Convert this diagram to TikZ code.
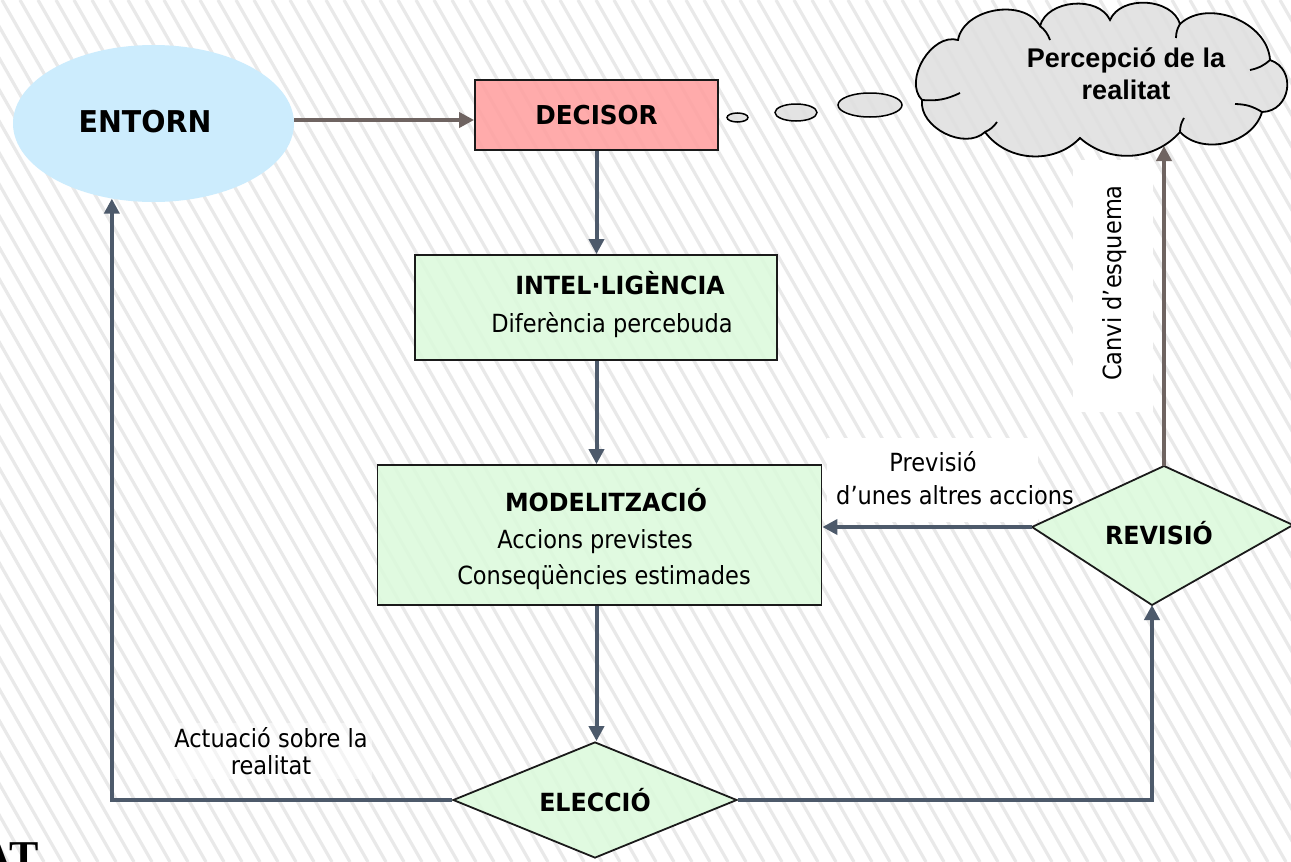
\documentclass[tikz,border=0pt]{standalone}
\usepackage{fontspec}
\usetikzlibrary{shapes.geometric,arrows.meta}
\newfontfamily\tah{DejaVu Sans}[FakeStretch=0.9]
\newfontfamily\tahb{DejaVu Sans}[FakeStretch=0.95]
\newfontfamily\arialf{Liberation Sans}
\newfontfamily\timesf{Liberation Serif}
\definecolor{entornc}{HTML}{CCECFD}
\definecolor{decisorc}{HTML}{FFA0A0}
\definecolor{greenc}{HTML}{DCFADC}
\definecolor{cloudc}{HTML}{E0E0E0}
\definecolor{slate}{HTML}{4D5A6B}
\definecolor{taupe}{HTML}{6F6461}
\definecolor{stripec}{HTML}{E9E9E9}
\definecolor{edgec}{HTML}{1A1A1A}
\begin{document}
\begin{tikzpicture}[x=1pt,y=-1pt,
  stripe/.style={line width=3.2pt, draw=stripec},
  box/.style={draw=edgec, line width=1.8pt, fill opacity=0.88, text opacity=1, inner sep=0pt},
  rtxt/.style={font=\tah\fontsize{25}{30}\selectfont, inner sep=0pt},
  btxt/.style={font=\tahb\bfseries\fontsize{25}{30}\selectfont, inner sep=0pt},
  conn/.style={line width=4pt, draw=slate, -{Triangle[length=15pt,width=15pt]}},
  connb/.style={line width=4pt, draw=taupe, -{Triangle[length=15pt,width=15pt]}},
  bubble/.style={ellipse, draw=black, line width=1.5pt, fill=cloudc, fill opacity=0.9, inner sep=0pt},
  curl/.style={draw=black, line width=1.8pt},
  labelbg/.style={fill=white, inner sep=0pt}
]
\useasboundingbox (0,0) rectangle (1291,862);
\clip (0,0) rectangle (1291,862);
\fill[white] (0,0) rectangle (1291,862);
\foreach \i in {-520,-502,...,1300} \draw[stripe] (\i,0) -- ++(492,862);

% ENTORN
\node[ellipse, fill=entornc, minimum width=281, minimum height=157, inner sep=0pt] (entorn) at (153.5,123.5) {};
\node[font=\tahb\bfseries\fontsize{30}{36}\selectfont, inner sep=0pt] (entornt) at (145,122) {ENTORN};

% DECISOR
\node[box, fill=decisorc, minimum width=243, minimum height=70, font=\tahb\bfseries\fontsize{26}{30}\selectfont] (decisor) at (596.5,115) {DECISOR};

% thought bubbles and cloud
\node[bubble, minimum width=21, minimum height=9] (b1) at (737.5,117.5) {};
\node[bubble, minimum width=42, minimum height=17] (b2) at (796,112.5) {};
\node[bubble, minimum width=64, minimum height=24] (b3) at (870,105) {};
\coordinate (J1) at (922,100);
\coordinate (J2) at (958,40);
\coordinate (J3) at (1040,26);
\coordinate (J4) at (1110,20);
\coordinate (J5) at (1180,24);
\coordinate (J6) at (1270,60);
\coordinate (J7) at (1262,112);
\coordinate (J8) at (1180,132);
\coordinate (J9) at (1080,138);
\coordinate (J10) at (985,132);
\path[draw=black, line width=1.8pt, fill=cloudc, fill opacity=0.9]
  (J1) to[bend left=75] (J2) to[bend left=70] (J3) to[bend left=70] (J4)
  to[bend left=70] (J5) to[bend left=65] (J6) to[bend left=80, looseness=1.4] (J7)
  to[bend left=60] (J8) to[bend left=45] (J9) to[bend left=50] (J10)
  to[bend left=70] (J1) -- cycle;
\draw[curl] (J1) to[bend right=15] ++(38,-7);
\draw[curl] (J3) to[bend left=15] ++(10,14);
\draw[curl] (J5) to[bend right=15] ++(-4,14);
\draw[curl] (J6) to[bend left=15] ++(-20,10);
\draw[curl] (J7) to[bend right=15] ++(-27,-8);
\draw[curl] (J8) to[bend left=15] ++(4,-14);
\draw[curl] (J10) to[bend right=15] ++(12,-10);
\node[font=\arialf\bfseries\fontsize{27}{32}\selectfont, align=center, inner sep=0pt] (cloud) at (1126,74) {Percepció de la\\realitat};
\coordinate (cloudtip) at (1164,146);

% INTEL·LIGENCIA
\node[box, fill=greenc, minimum width=362, minimum height=105] (intel) at (596,307.5) {};
\node[btxt] (intelt) at (620,283) {INTEL·LIGÈNCIA};
\node[rtxt] (intels) at (612,325) {Diferència percebuda};

% MODELITZACIO
\node[box, fill=greenc, minimum width=444, minimum height=140] (model) at (599.5,535) {};
\node[btxt] (modelt) at (606,500) {MODELITZACIÓ};
\node[rtxt] (model1) at (595,542) {Accions previstes};
\node[rtxt] (model2) at (604,577) {Conseqüències estimades};

% ELECCIO
\node[diamond, box, fill=greenc, minimum width=284, minimum height=116, aspect=2.45, font=\tahb\bfseries\fontsize{25}{30}\selectfont] (elec) at (595,800) {ELECCIÓ};

% REVISIO
\coordinate (revT) at (1164,466);
\coordinate (revR) at (1293,525);
\coordinate (revB) at (1152,605);
\coordinate (revL) at (1032,527);
\path[draw=edgec, line width=1.8pt, fill=greenc, fill opacity=0.88] (revT) -- (revR) -- (revB) -- (revL) -- cycle;
\node[btxt] (rev) at (1159,533) {REVISIÓ};

% labels
\node[labelbg, minimum width=80, minimum height=252] (canvibg) at (1113,286) {};
\node[rtxt, rotate=90] (canvi) at (1115,283) {Canvi d’esquema};
\node[labelbg, minimum width=211, minimum height=84] (prevbg) at (932.5,480) {};
\node[rtxt] (prev1) at (933,462) {Previsió};
\node[rtxt] (prev2) at (955,495) {d’unes altres accions};
\node[rtxt, align=center, font=\tah\fontsize{25}{27}\selectfont, fill=white, fill opacity=0.5, text opacity=1, inner sep=4pt] (actu) at (271,751) {Actuació sobre la\\realitat};

% connectors
\draw[connb] ([yshift=3.5pt]entorn.east) -- ([yshift=-5pt]decisor.west);
\draw[conn] (decisor.south) -- (decisor.south |- intel.north);
\draw[conn] (decisor.south |- intel.south) -- (decisor.south |- model.north);
\draw[conn] (decisor.south |- model.south) -- (decisor.south |- elec.north);
\draw[conn] (elec.east) -| (revB);
\draw[conn] (elec.west) -| (entorn.241.7);
\draw[conn] (revL) -- (revL -| model.east);
\draw[connb] (revT) -- (cloudtip);

% cut-off logo text
\node[anchor=north east, inner sep=0pt, font=\timesf\bfseries\fontsize{44}{44}\selectfont] (logo) at (39,842) {AT};
\end{tikzpicture}
\end{document}
